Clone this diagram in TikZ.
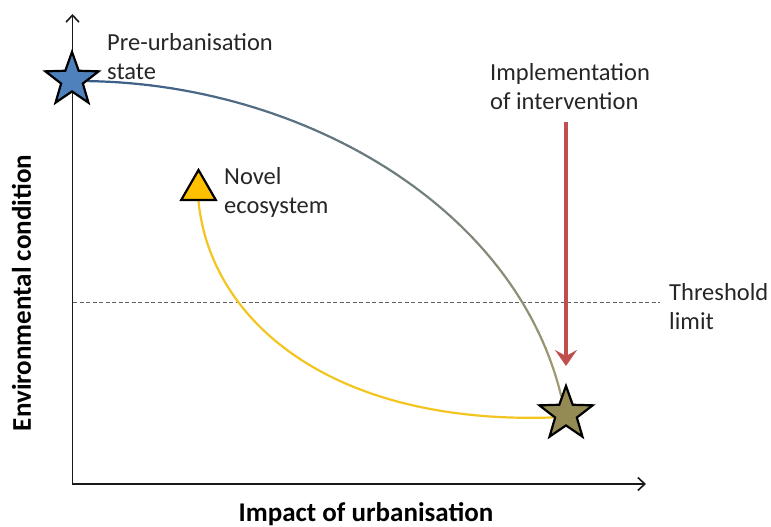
\documentclass[tikz,border=0pt]{standalone}
\usepackage{fontspec}
\setmainfont{Carlito}
\usetikzlibrary{shapes.geometric,arrows.meta}
\definecolor{starblue}{HTML}{4F81BD}
\definecolor{curveblue}{HTML}{385D8A}
\definecolor{curveolive}{HTML}{A19C70}
\definecolor{starolive}{HTML}{948A54}
\definecolor{triyellow}{HTML}{FFC000}
\definecolor{lineyellow}{HTML}{F4C520}
\definecolor{arrowred}{HTML}{C0504D}
\definecolor{dashgray}{HTML}{606060}
\pgfdeclarelayer{fg}
\pgfsetlayers{main,fg}
\tikzset{
  lbl/.style={font=\fontsize{24.5}{29}\selectfont, align=left, anchor=north west, inner sep=0pt, text=black!85},
  axlbl/.style={font=\fontsize{27}{32}\selectfont\bfseries, inner sep=0pt, text=black},
  starnode/.style={star, star points=5, star point ratio=2.45, minimum size=56pt, inner sep=0pt, draw=black, line width=2.2pt},
  axisline/.style={line width=1.6pt, black!90},
}
\begin{document}
\begin{tikzpicture}[x=1pt, y=-1pt]
\useasboundingbox (0,0) rectangle (771,527);
% axes
\coordinate (ytop) at (72.5,14);
\coordinate (orig) at (72.5,484);
\coordinate (xend) at (646,484);
\draw[axisline, {Straight Barb[length=7pt,width=13pt]}-{Straight Barb[length=7pt,width=13pt]}] (ytop) -- (orig) -- (xend);
% threshold
\coordinate (thl) at (73,302);
\coordinate (thr) at (660,302);
\draw[dashgray, line width=0.8pt, dash pattern=on 4pt off 2.5pt] (thl) -- (thr);
% shapes (foreground)
\begin{pgfonlayer}{fg}
\node[starnode, fill=starblue] (s1) at (72,80) {};
\node[starnode, fill=starolive] (s2) at (566,414) {};
\node[regular polygon, regular polygon sides=3, minimum size=40pt, inner sep=0pt, draw=black, line width=2.2pt, fill=triyellow] (tri) at (198.5,190) {};
\end{pgfonlayer}
% yellow curve
\draw[lineyellow, line width=2.2pt] (tri.south) .. controls (210,320) and (330,425) .. (s2.195);
% gradient curve
\path (s1.-4) .. controls (300,84) and (515,205) .. (s2.105)
  \foreach \i in {0,...,60}{ coordinate[pos=\i/60] (g\i) };
\foreach \i [evaluate=\i as \j using int(\i+1), evaluate=\i as \p using int(100*\i/59)] in {0,...,59}{
  \draw[curveolive!\p!curveblue, line width=2.2pt, line cap=round] (g\i) -- (g\j);
}
% red arrow
\coordinate (atop) at (566,122);
\coordinate (abot) at (566,366);
\draw[arrowred, line width=4.5pt, -{Stealth[length=16pt,width=22pt,inset=6pt]}] (atop) -- (abot);
% labels
\node[lbl] (lpre) at (107,33) {Pre-urbanisation\\state};
\node[lbl] (lnov) at (224,167) {Novel\\ecosystem};
\node[lbl] (limp) at (490,63) {Implementation\\of intervention};
\node[lbl] (lthr) at (669,283) {Threshold\\limit};
\node[axlbl, rotate=90] (lenv) at (21.5,293) {Environmental condition};
\node[axlbl, anchor=base] (lurb) at (366,521) {Impact of urbanisation};
\end{tikzpicture}
\end{document}
